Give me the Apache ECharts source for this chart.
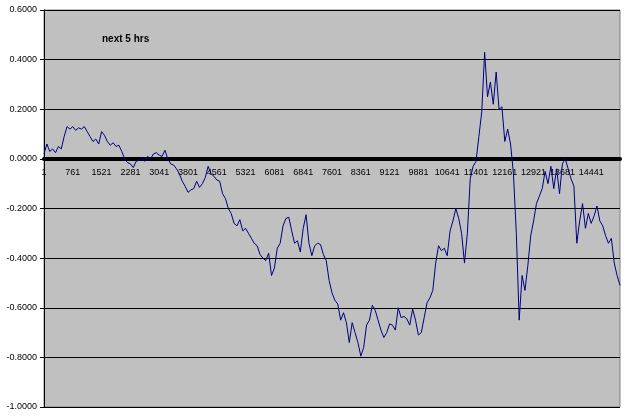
<!DOCTYPE html>
<html>
<head>
<meta charset="utf-8">
<script src="https://cdn.jsdelivr.net/npm/echarts@6/dist/echarts.min.js"></script>
<style>
  html, body { margin: 0; padding: 0; background: #fff; }
  #chart { width: 625px; height: 417px; }
</style>
</head>
<body>
<div id="chart"></div>
<script>
// sample step along the x index (one point every 76 rows)
const step = 76
const pointCount = 201
const categories = Array.from({ length: pointCount }, (_, i) => String(1 + i * step))

// values
const values = [
  0.02, 0.06, 0.03, 0.04, 0.025, 0.05, 0.04, 0.09, 0.13, 0.12,
  0.13, 0.115, 0.125, 0.12, 0.13, 0.11, 0.09, 0.07, 0.08, 0.06,
  0.11, 0.095, 0.07, 0.055, 0.065, 0.05, 0.055, 0.03, 0.0, -0.015,
  -0.02, -0.035, -0.01, -0.005, 0.005, -0.01, 0.01, 0.0, 0.02, 0.025,
  0.015, 0.01, 0.035, 0.0, -0.02, -0.025, -0.04, -0.06, -0.09, -0.11,
  -0.135, -0.125, -0.12, -0.09, -0.115, -0.1, -0.075, -0.03, -0.06, -0.07,
  -0.085, -0.09, -0.14, -0.16, -0.2, -0.22, -0.26, -0.27, -0.245, -0.29,
  -0.28, -0.3, -0.32, -0.34, -0.35, -0.385, -0.4, -0.41, -0.38, -0.47,
  -0.44, -0.36, -0.34, -0.27, -0.24, -0.235, -0.29, -0.34, -0.33, -0.375,
  -0.28, -0.225, -0.34, -0.39, -0.35, -0.34, -0.345, -0.385, -0.41, -0.49,
  -0.54, -0.57, -0.585, -0.65, -0.62, -0.66, -0.74, -0.66, -0.7, -0.74,
  -0.795, -0.76, -0.67, -0.65, -0.59, -0.61, -0.65, -0.69, -0.72, -0.7,
  -0.665, -0.67, -0.69, -0.6, -0.64, -0.635, -0.645, -0.67, -0.605, -0.65,
  -0.71, -0.7, -0.64, -0.58, -0.56, -0.53, -0.42, -0.35, -0.37, -0.36,
  -0.39, -0.29, -0.25, -0.2, -0.24, -0.3, -0.42, -0.3, -0.08, -0.03,
  -0.01, 0.09, 0.19, 0.43, 0.25, 0.31, 0.22, 0.35, 0.2, 0.21,
  0.07, 0.12, 0.06, -0.06, -0.3, -0.65, -0.47, -0.53, -0.43, -0.31,
  -0.25, -0.18, -0.15, -0.12, -0.05, -0.1, -0.03, -0.12, -0.04, -0.14,
  -0.02, 0.0, -0.04, -0.08, -0.11, -0.34, -0.25, -0.18, -0.28, -0.22,
  -0.26, -0.23, -0.19, -0.25, -0.27, -0.31, -0.34, -0.32, -0.42, -0.47,
  -0.51
]

const titleText = 'next 5 hrs'
const yMin = -1
const yMax = 0.6
const yStep = 0.2
const labelEvery = 10

const chartH = 417
const gridTop = 10
const gridBottom = 10
const plotH = chartH - gridTop - gridBottom
// lift the category axis (and its labels) up to the zero line
const zeroOffset = -plotH * (0 - yMin) / (yMax - yMin)

const font = 'Liberation Sans, Arial, sans-serif'

const chart = echarts.init(document.getElementById('chart'))
chart.setOption({
  animation: false,
  backgroundColor: '#fff',
  title: {
    text: titleText,
    left: 97,
    top: 29,
    textStyle: { fontFamily: font, fontSize: 10, fontWeight: 'bold', color: '#000' }
  },
  grid: {
    left: 44,
    right: 5,
    top: gridTop,
    bottom: gridBottom,
    outerBoundsMode: 'none',
    show: true,
    backgroundColor: '#c0c0c0',
    borderColor: '#808080',
    borderWidth: 1
  },
  xAxis: {
    type: 'category',
    data: categories,
    boundaryGap: false,
    position: 'bottom',
    offset: zeroOffset,
    axisLine: { onZero: false, lineStyle: { color: '#000', width: 4 } },
    axisTick: { show: false },
    axisLabel: {
      interval: (i) => i % labelEvery === 0 && i < pointCount - 1,
      margin: 9,
      fontFamily: font,
      fontSize: 9,
      color: '#000'
    },
    splitLine: { show: false }
  },
  yAxis: {
    type: 'value',
    min: yMin,
    max: yMax,
    interval: yStep,
    axisLine: { show: true, lineStyle: { color: '#000', width: 1 } },
    axisTick: { show: true, length: 4, lineStyle: { color: '#000' } },
    axisLabel: {
      margin: 7,
      fontFamily: font,
      fontSize: 9,
      color: '#000',
      formatter: (v) => v.toFixed(4)
    },
    splitLine: { show: true, lineStyle: { color: '#000', width: 1 } }
  },
  series: [
    {
      type: 'line',
      data: values,
      symbol: 'none',
      lineStyle: { color: '#000080', width: 1 },
      z: 1
    }
  ]
})
</script>
</body>
</html>
